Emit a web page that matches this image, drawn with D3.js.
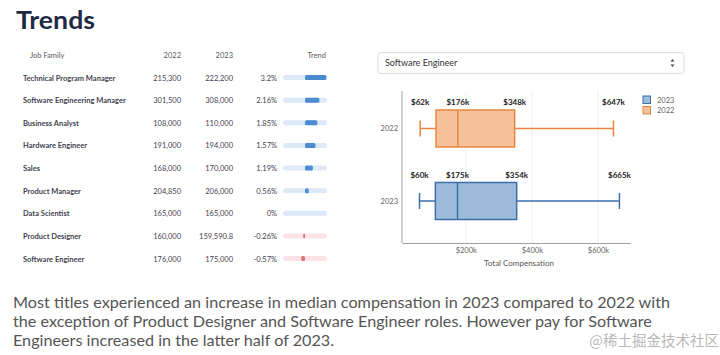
<!DOCTYPE html>
<html><head><meta charset="utf-8">
<script src="https://cdn.jsdelivr.net/npm/d3@7"></script>
<style>
body{margin:0;background:#fff;}
svg{display:block;font-family:Lato,"Noto Sans",sans-serif;}
</style></head>
<body>
<svg id="c" width="720" height="355"></svg>
<script>
// ---- data ----
const jobFamilies = ["Technical Program Manager","Software Engineering Manager","Business Analyst","Hardware Engineer","Sales","Product Manager","Data Scientist","Product Designer","Software Engineer"];
const median2022 = ["215,300","301,500","108,000","191,000","168,000","204,850","165,000","160,000","176,000"];
const median2023 = ["222,200","308,000","110,000","194,000","170,000","206,000","165,000","159,590.8","175,000"];
const trendPct = [3.2, 2.16, 1.85, 1.57, 1.19, 0.56, 0, -0.26, -0.57];
const trendLabels = ["3.2%","2.16%","1.85%","1.57%","1.19%","0.56%","0%","-0.26%","-0.57%"];
const tableHeaders = ["Job Family","2022","2023","Trend"];

const boxYears = ["2022","2023"];
const boxMin = [62000, 60000];
const boxQ1 = [110000, 108000];
const boxMedian = [176000, 175000];
const boxQ3 = [348000, 354000];
const boxMax = [647000, 665000];
const xTicks = [200000, 400000, 600000];
const selectedJob = "Software Engineer";
const legendYears = ["2023","2022"];
const summary = ["Most titles experienced an increase in median compensation in 2023 compared to 2022 with",
 "the exception of Product Designer and Software Engineer roles. However pay for Software",
 "Engineers increased in the latter half of 2023."];
const watermark = "@稀土掘金技术社区";

const svg = d3.select("#c");

// ---- title ----
svg.append("text").attr("x",16).attr("y",29).text("Trends")
  .attr("font-size",25).attr("font-weight",700).attr("fill","#1f2b45")
  .attr("textLength",79).attr("lengthAdjust","spacingAndGlyphs");

// ---- table ----
const rowY = d3.scalePoint().domain(jobFamilies).range([77.5,258.5]);
const hy = 58;
const hdrX = [30,181,233,326];
const hdrAnchor = ["start","end","end","end"];
svg.selectAll("text.hdr").data(tableHeaders).join("text").attr("class","hdr")
  .attr("x",(d,i)=>hdrX[i]).attr("y",hy).attr("text-anchor",(d,i)=>hdrAnchor[i])
  .attr("font-size",7.5).attr("fill","#5a5a5a").text(d=>d);

const rows = svg.selectAll("g.row").data(jobFamilies).join("g").attr("class","row")
  .attr("transform",d=>`translate(0,${rowY(d)})`);
rows.append("text").attr("x",23).attr("y",3).attr("font-size",7.5).attr("font-weight",700)
  .attr("fill","#3f4250").text(d=>d);
rows.append("text").attr("x",181).attr("y",3).attr("text-anchor","end").attr("font-size",7.5)
  .attr("fill","#3f4250").text((d,i)=>median2022[i]);
rows.append("text").attr("x",233).attr("y",3).attr("text-anchor","end").attr("font-size",7.5)
  .attr("fill","#3f4250").text((d,i)=>median2023[i]);
rows.append("text").attr("x",277).attr("y",3).attr("text-anchor","end").attr("font-size",7.5)
  .attr("fill","#3f4250").text((d,i)=>trendLabels[i]);

const tScale = d3.scaleLinear().domain([-3.3,3.3]).range([283,327]);
rows.append("rect").attr("x",tScale(-3.3)).attr("y",-2.5).attr("width",tScale(3.3)-tScale(-3.3))
  .attr("height",5).attr("rx",2.5)
  .attr("fill",(d,i)=>trendPct[i]<0?"#fce3e7":"#dde9f6");
rows.append("rect")
  .attr("x",(d,i)=>Math.min(tScale(0),tScale(trendPct[i])))
  .attr("y",-2.5).attr("height",5).attr("rx",1.5)
  .attr("width",(d,i)=>Math.abs(tScale(trendPct[i])-tScale(0)))
  .attr("fill",(d,i)=>trendPct[i]<0?"#e07078":"#4a8bd2");

// ---- dropdown ----
const dd = svg.append("g");
dd.append("rect").attr("x",378).attr("y",52.5).attr("width",306).attr("height",21).attr("rx",3)
  .attr("fill","#fff").attr("stroke","#dcdcdc");
dd.append("text").attr("x",385).attr("y",66).attr("font-size",9).attr("fill","#333")
  .text(selectedJob);
dd.append("path").attr("d","M670.5,61.5 l2,-2.5 l2,2.5 z M670.5,64.5 l2,2.5 l2,-2.5 z").attr("fill","#444");

// ---- box plot ----
const x = d3.scaleLinear().domain([7000,697000]).range([402,630]);
const y = d3.scalePoint().domain(boxYears).range([128.5,201]);
const plotTop = 91, plotBottom = 243;

svg.append("g").selectAll("line").data(xTicks).join("line")
  .attr("x1",d=>x(d)).attr("x2",d=>x(d)).attr("y1",plotTop).attr("y2",plotBottom)
  .attr("stroke","#ececec").attr("stroke-width",0.8);

const xAxis = svg.append("g").attr("transform",`translate(0,${plotBottom})`)
  .call(d3.axisBottom(x).tickValues(xTicks).tickSize(0).tickPadding(5).tickFormat(d=>"$"+d/1000+"k"));
xAxis.select(".domain").attr("stroke","#888").attr("stroke-width",0.8);
xAxis.selectAll("text").attr("font-size",7.5).attr("fill","#666").attr("font-family","Lato");

const yAxis = svg.append("g").attr("transform","translate(402,0)")
  .call(d3.axisLeft(y).tickSize(0).tickPadding(4));
yAxis.select(".domain").remove();
yAxis.selectAll("text").attr("font-size",7.5).attr("fill","#666").attr("font-family","Lato");
svg.append("line").attr("x1",402).attr("x2",402).attr("y1",plotTop).attr("y2",plotBottom)
  .attr("stroke","#888").attr("stroke-width",0.8);

svg.append("text").attr("x",519).attr("y",266).attr("text-anchor","middle").attr("font-size",8)
  .attr("fill","#555").text("Total Compensation");

const fills = {"2022":"#f6c29b","2023":"#9dbcdc"};
const strokes = {"2022":"#e8873f","2023":"#3c6ea8"};
boxYears.forEach((yr,i)=>{
  const cy = y(yr), h = 37;
  const g = svg.append("g");
  const s = strokes[yr];
  g.append("line").attr("x1",x(boxMin[i])).attr("x2",x(boxQ1[i])).attr("y1",cy).attr("y2",cy).attr("stroke",s).attr("stroke-width",1.5);
  g.append("line").attr("x1",x(boxQ3[i])).attr("x2",x(boxMax[i])).attr("y1",cy).attr("y2",cy).attr("stroke",s).attr("stroke-width",1.5);
  [boxMin[i],boxMax[i]].forEach(v=>g.append("line").attr("x1",x(v)).attr("x2",x(v)).attr("y1",cy-8).attr("y2",cy+8).attr("stroke",s).attr("stroke-width",1.5));
  g.append("rect").attr("x",x(boxQ1[i])).attr("y",cy-h/2).attr("width",x(boxQ3[i])-x(boxQ1[i])).attr("height",h)
    .attr("fill",fills[yr]).attr("stroke",s).attr("stroke-width",1.5);
  g.append("line").attr("x1",x(boxMedian[i])).attr("x2",x(boxMedian[i])).attr("y1",cy-h/2).attr("y2",cy+h/2).attr("stroke",s).attr("stroke-width",1.5);
  [boxMin[i],boxMedian[i],boxQ3[i],boxMax[i]].forEach(v=>{
    g.append("text").attr("x",x(v)).attr("y",cy-h/2-5).attr("text-anchor","middle")
      .attr("font-size",8).attr("font-weight",700).attr("fill","#222").text("$"+Math.round(v/1000)+"k");
  });
});

// legend
const lg = svg.append("g").selectAll("g").data(legendYears).join("g")
  .attr("transform",(d,i)=>`translate(643,${96+i*10.5})`);
lg.append("rect").attr("width",7.5).attr("height",7.5).attr("fill",d=>fills[d]).attr("stroke",d=>strokes[d]).attr("stroke-width",1);
lg.append("text").attr("x",14).attr("y",6.5).attr("font-size",7.5).attr("fill","#666").text(d=>d);

// ---- summary ----
svg.selectAll("text.sum").data(summary).join("text").attr("class","sum")
  .attr("x",13).attr("y",(d,i)=>308+i*19).attr("font-size",16.2).attr("fill","#555")
  .text(d=>d);
svg.append("text").attr("x",719).attr("y",346).attr("text-anchor","end")
  .attr("font-family","'Noto Sans CJK SC'").attr("font-size",14.5).attr("fill","#b8b8b8").text(watermark);
</script>
</body></html>
